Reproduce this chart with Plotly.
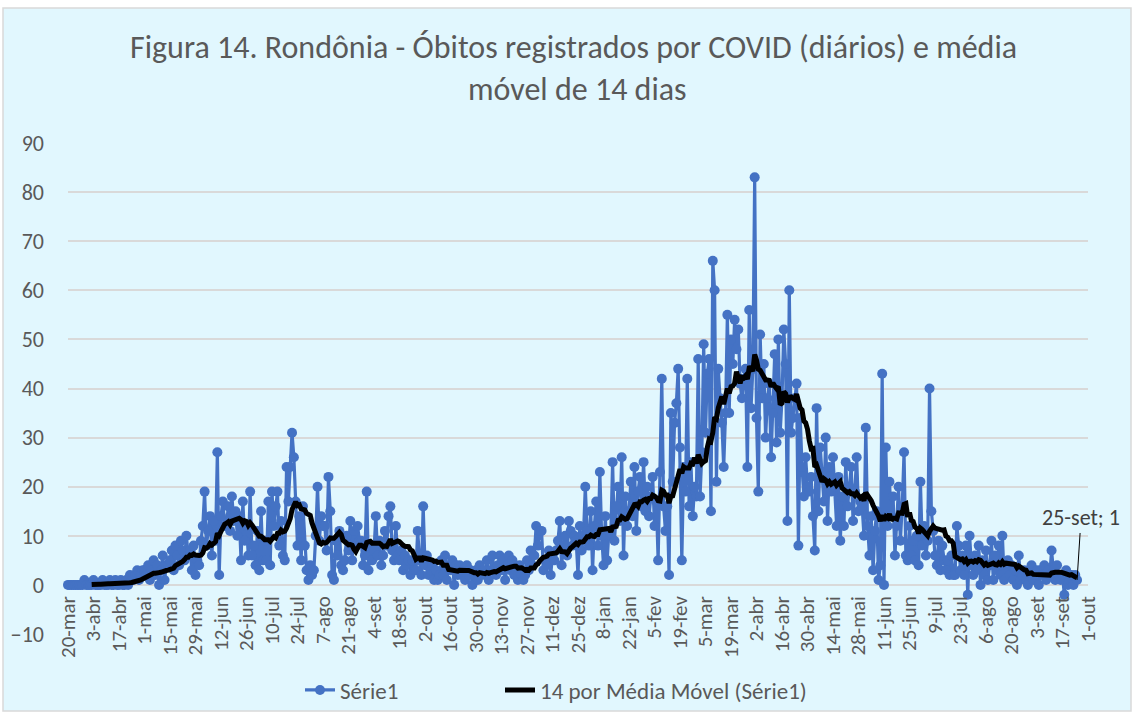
import plotly.graph_objects as go
import pandas as pd

# Daily deaths (Rondônia), 20-mar-2020 .. 25-set-2021
mar20 = [0,0,0,0,0,0,0,0,0,1,0,0]
abr20 = [0,0,1,0,0,0,0,1,0,0, 0,1,0,0,1,0,0,1,0,0, 1,0,2,1,1,2,3,1,2,3]
mai20 = [3,2,4,1,3, 5,2,4,0,3,6,1,4,4, 5,7,3,8,6,4,9,7,5,10,6,7, 3,8,2,5,4]
jun20 = [9,12,19,8,11,14,6,13,9, 27, 2,14,17,12,12, 16,11,18,13,15,10,14, 5,17,9,12,6,19,6, 8]
jul20 = [4,11,3,15,5,9,5, 17,4,19,12,16,19, 8,13,6,5,24, 17,24,31,26, 17,8,14,5,16,8, 3,1,4]
ago20 = [2,3, 10,20,9,14,12,12, 7,22,15,2,1,9,6,11,4,3,5, 10,7,13,5,11,8,12,9,9, 4,6,19]
set20 = [3,8,5,7, 14,6,9,4,6, 11,8,14,16,7,5,12,6,5, 7,3,6,4,5,2,5,3,3,11,5, 2]
out20 = [16, 4,6,2,3,4,1,3,1,2, 5,2,6,1,4,3,5,0,4,2,4, 2,3,1,4,2,3,0,2,3,1]
nov20 = [4,2,3, 2,5,1,3,6,3, 2,4,6,3,5,1,4,6,3,5, 2,3,1,4,2,1,2, 5,3,7,4]
dez20 = [6,12,8,11,11, 3,5,4,7,2,6,5, 7,9,13,4,8,10,6,13,11,8,10, 9,2,12,7,10,20,11, 8]
jan21 = [15,3,12,17,8,23, 10,4,14,5,11,10,25, 9,16,20,13,26,6,18,12,15, 21,14,24,11,19,22,16,25,15]
fev21 = [20, 14,18,22,12,17,5,23,42,16,11,16, 2,35,21,33,37, 44,28,5, 24,19,42,16,25,14,20,18]
mar21 = [46, 18,27,49,31,43,46,15,66, 60,21,44, 38,33,24,35,55, 35,50,45,54,48,52, 41,38,42,44,24,56,36,44]
abr21 = [83,34, 19,51,38,45,30,38, 41,26,35,47,29,50,31,38, 52,45,13,60,31, 34,38,41,8,34, 24,18,26,20]
mai21 = [19,22,14,7,36,15,28,23, 17,30,13,24,19,26,20, 12,22,9, 18,12,25,16,20,24,13,19,26,15,17,16, 10]
jun21 = [32, 12,6,14,3,11,15,1,4, 43,0,28,12,21,14,18, 6,12,20,9,16,27, 6, 5, 12,6,9,5,10,4]
jul21 = [21,8,12,6, 9,40,15,11, 6,4,9,3,8,5, 3,5,2,6,2, 2, 12, 8,3,6,2,8,-2, 10,4,2,6]
ago21 = [3,8,0, 5,2,7,1,4,9,1, 6,3,8,2,10,1,3, 5,2,4,1,3,0,6,1, 2,3,1,0,2,4]
set21 = [1,2,3,0,3, 2,4,1,3,2,7,3,1,4,2,1,2, -2,3,0,1,2,0,2,1]

tick_labels = ["20-mar","3-abr","17-abr","1-mai","15-mai","29-mai","12-jun","26-jun",
               "10-jul","24-jul","7-ago","21-ago","4-set","18-set","2-out","16-out",
               "30-out","13-nov","27-nov","11-dez","25-dez","8-jan","22-jan","5-fev",
               "19-fev","5-mar","19-mar","2-abr","16-abr","30-abr","14-mai","28-mai",
               "11-jun","25-jun","9-jul","23-jul","6-ago","20-ago","3-set","17-set","1-out"]
last_label = "25-set"

series_name = "Série1"
ma_name = "14 por Média Móvel (Série1)"
title_l1 = "Figura 14. Rondônia - Óbitos registrados por COVID (diários) e média"
title_l2 = "móvel de 14 dias"

values = (mar20 + abr20 + mai20 + jun20 + jul20 + ago20 + set20 + out20 + nov20 +
          dez20 + jan21 + fev21 + mar21 + abr21 + mai21 + jun21 + jul21 + ago21 + set21)
dates = pd.date_range("2020-03-20", periods=len(values), freq="D")
ma = pd.Series(values).rolling(14).mean()
tick_dates = pd.date_range("2020-03-20", periods=len(tick_labels), freq="14D")

BLUE = "#4472C4"
GRAY = "#595959"
FONT = "Carlito, 'Liberation Sans Narrow', 'Liberation Sans', Arial, sans-serif"

fig = go.Figure()
fig.add_trace(go.Scatter(
    x=dates, y=values, mode="lines+markers", name=series_name,
    line=dict(color=BLUE, width=3.2), marker=dict(color=BLUE, size=10),
    cliponaxis=False, legend="legend"))
fig.add_trace(go.Scatter(
    x=dates, y=ma, mode="lines", name=ma_name,
    line=dict(color="black", width=5), cliponaxis=False, legend="legend2"))

L, R, T, B = 68, 46, 143, 79
W, H = 1134, 713
pw, ph = W - L - R, H - T - B

def px_x(x):
    return (x - L) / pw

def px_y(y):
    return (H - B - y) / ph

fig.add_shape(type="rect", xref="paper", yref="paper",
              x0=px_x(3), x1=px_x(1131), y0=px_y(711), y1=px_y(8),
              fillcolor="#E1F7FE", line=dict(color="#D9D9D9", width=1.5),
              layer="below")

fig.add_annotation(xref="paper", yref="paper", x=px_x(573), y=px_y(48),
                   xanchor="center", yanchor="middle",
                   text=title_l1, showarrow=False,
                   font=dict(family=FONT, size=32, color=GRAY))
fig.add_annotation(xref="paper", yref="paper", x=px_x(577), y=px_y(90),
                   xanchor="center", yanchor="middle",
                   text=title_l2, showarrow=False,
                   font=dict(family=FONT, size=32, color=GRAY))

fig.add_annotation(x=dates[-1], y=values[-1], text=f"{last_label}; {values[-1]}",
                   showarrow=True, arrowhead=0, arrowwidth=1, arrowcolor="black",
                   ax=4, ay=-62, font=dict(family=FONT, size=22, color="#404040"))

legend_common = dict(orientation="h", yanchor="middle", y=px_y(690),
                     xanchor="left", bgcolor="rgba(0,0,0,0)",
                     font=dict(family=FONT, size=23, color=GRAY))

fig.update_layout(
    width=W, height=H,
    margin=dict(l=L, r=R, t=T, b=B, autoexpand=False),
    paper_bgcolor="white", plot_bgcolor="rgba(0,0,0,0)",
    font=dict(family=FONT, size=22, color=GRAY),
    showlegend=True,
    legend=dict(x=px_x(300), **legend_common),
    legend2=dict(x=px_x(500), **legend_common),
    xaxis=dict(type="date", range=[dates[0], pd.Timestamp("2021-10-01")],
               tickmode="array", tickvals=tick_dates, ticktext=tick_labels,
               tickangle=-90, showgrid=False, zeroline=False, showline=False,
               anchor="free", position=0.1, ticks="", ticklabelstandoff=6,
               tickfont=dict(family=FONT, size=21, color=GRAY)),
    yaxis=dict(range=[-10, 90], tickmode="array", tickvals=list(range(-10, 91, 10)),
               showgrid=True, gridcolor="#D9D9D9", gridwidth=1.5, zeroline=False,
               showline=False, ticks="", ticklabelstandoff=23,
               tickfont=dict(family=FONT, size=22, color=GRAY)),
)

fig.write_html("out.html", config={"displayModeBar": False},
               post_script="document.body.style.margin='0';")
